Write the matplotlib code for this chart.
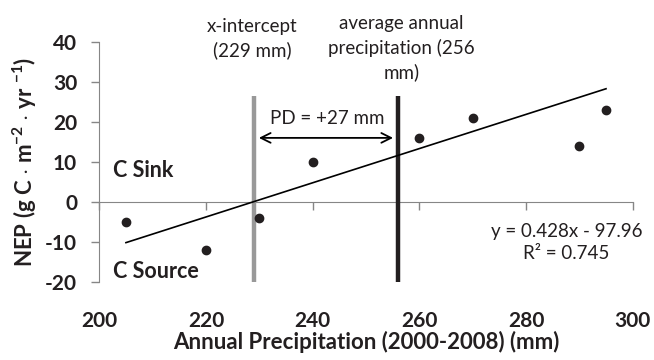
import matplotlib
matplotlib.use("Agg")
import matplotlib.pyplot as plt
import numpy as np

# datos
precip = [205, 220, 230, 240, 260, 270, 290, 295]
nep = [-5, -12, -4, 10, 16, 21, 14, 23]
pendiente = 0.428
intercepto = -97.96
x_intercepto = 229
precip_media = 256
xticks = [200, 220, 240, 260, 280, 300]
yticks = [-20, -10, 0, 10, 20, 30, 40]

plt.rcParams['font.family'] = ['Lato', 'DejaVu Sans']
plt.rcParams['mathtext.fontset'] = 'custom'
plt.rcParams['mathtext.rm'] = 'Lato'
plt.rcParams['mathtext.bf'] = 'Lato:bold'

texto = '#231f20'
gris = '#868686'

fig = plt.figure(figsize=(6.54, 3.6), dpi=100)
ax = fig.add_axes([0.1518, 0.2175, 0.8156, 0.6658])

ax.set_xlim(200, 300)
ax.set_ylim(-20, 40)

# puntos y linea de tendencia
ax.plot(precip, nep, 'o', color=texto, markersize=6, zorder=4)
xl = np.array([min(precip), max(precip)])
ax.plot(xl, pendiente * xl + intercepto, color='black', lw=1.2, zorder=3)

# lineas verticales
ax.plot([x_intercepto, x_intercepto], [-20, 26.6], color='#999999', lw=3.2, solid_capstyle='butt', zorder=2)
ax.plot([precip_media, precip_media], [-20, 26.6], color='#231f20', lw=3.2, solid_capstyle='butt', zorder=2)

ax.annotate('', xy=(x_intercepto + 0.4, 16), xytext=(precip_media - 0.4, 16),
            arrowprops=dict(arrowstyle='<->,head_length=0.7,head_width=0.35', color='black', lw=1.3))
ax.text(242.8, 20.8, 'PD = +27 mm', ha='center', va='center', fontsize=13.5, color=texto)

ax.text(228.7, 40.9, 'x-intercept\n(229 mm)', ha='center', va='center', fontsize=13.5,
        color=texto, linespacing=1.45, clip_on=False)
ax.text(256.7, 38.4, 'average annual\nprecipitation (256\nmm)', ha='center', va='center',
        fontsize=13.5, color=texto, linespacing=1.45, clip_on=False)

ax.text(202.6, 7.8, 'C Sink', ha='left', va='center', fontsize=15.5, fontweight='bold', color=texto)
ax.text(202.6, -17.4, 'C Source', ha='left', va='center', fontsize=15.5, fontweight='bold', color=texto)

ax.text(287.6, -10.2, 'y = 0.428x - 97.96\nR² = 0.745', ha='center', va='center',
        fontsize=13.5, color=texto, linespacing=1.3)

# ejes
for lado in ['top', 'right', 'bottom']:
    ax.spines[lado].set_visible(False)
ax.spines['left'].set_color(gris)
ax.set_yticks(yticks)
ax.set_yticklabels([str(v) for v in yticks], fontweight='bold', fontsize=15, color=texto)
ax.tick_params(axis='y', length=6, width=1, color=gris, pad=10)

ax.set_xticks(xticks)
ax.set_xticklabels([str(v) for v in xticks], fontweight='bold', fontsize=15, color=texto)
ax.tick_params(axis='x', length=0, pad=21)

eje0 = ax.secondary_xaxis(1 / 3)
eje0.set_xticks(xticks)
eje0.set_xticklabels([])
eje0.spines['bottom'].set_color(gris)
eje0.tick_params(axis='x', length=6, width=1, color=gris, direction='out')

ax.set_xlabel('Annual Precipitation (2000-2008) (mm)', fontweight='bold', fontsize=16, color=texto, labelpad=0)
ax.set_ylabel(r'NEP (g C $\cdot$ m$^{\mathbf{-2}}$ $\cdot$ yr $^{\mathbf{-1}}$)', fontweight='bold',
              fontsize=16, color=texto, labelpad=4)

fig.savefig('out.png', dpi=100)
